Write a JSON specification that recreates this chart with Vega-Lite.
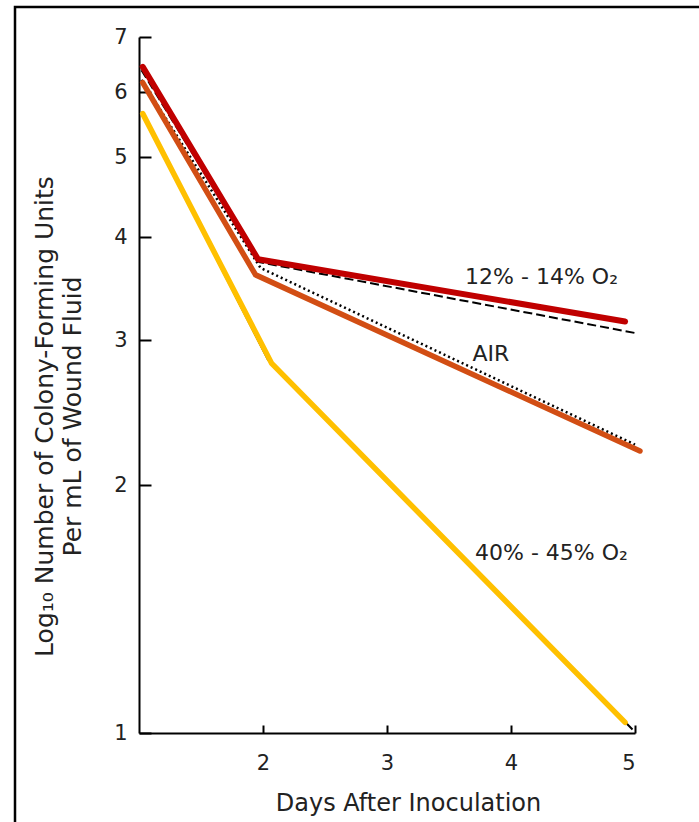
{
  "$schema": "https://vega.github.io/schema/vega-lite/v6.json",
  "width": 688,
  "height": 819,
  "autosize": {"type": "none"},
  "padding": {"left": 15, "top": 7, "right": -4, "bottom": -4},
  "background": "white",
  "config": {
    "view": {"stroke": "black", "strokeWidth": 2.5},
    "font": "DejaVu Sans",
    "axis": {
      "grid": false,
      "domainColor": "black",
      "domainWidth": 2,
      "tickColor": "black",
      "tickWidth": 2,
      "labelFont": "DejaVu Sans",
      "labelFontSize": 21,
      "labelColor": "#222",
      "titleFont": "DejaVu Sans",
      "titleFontWeight": "normal",
      "titleColor": "#222"
    }
  },
  "datasets": {
    "curves": [
      {"series": "12-14 black", "day": 1.02, "cfu": 6.38},
      {"series": "12-14 black", "day": 1.97, "cfu": 3.73},
      {"series": "12-14 black", "day": 5.0, "cfu": 3.06},
      {"series": "AIR black", "day": 1.02, "cfu": 6.21},
      {"series": "AIR black", "day": 1.98, "cfu": 3.67},
      {"series": "AIR black", "day": 5.0, "cfu": 2.24},
      {"series": "40-45 black", "day": 1.02, "cfu": 5.68},
      {"series": "40-45 black", "day": 2.04, "cfu": 2.84},
      {"series": "40-45 black", "day": 4.98, "cfu": 1.01},
      {"series": "40-45", "day": 1.03, "cfu": 5.65},
      {"series": "40-45", "day": 2.07, "cfu": 2.81},
      {"series": "40-45", "day": 4.92, "cfu": 1.03},
      {"series": "AIR", "day": 1.03, "cfu": 6.16},
      {"series": "AIR", "day": 1.94, "cfu": 3.6},
      {"series": "AIR", "day": 5.04, "cfu": 2.2},
      {"series": "12-14", "day": 1.03, "cfu": 6.44},
      {"series": "12-14", "day": 1.96, "cfu": 3.76},
      {"series": "12-14", "day": 4.92, "cfu": 3.16}
    ],
    "notes": [
      {"day": 3.63, "cfu": 3.51, "label": "12%  - 14%  O₂"},
      {"day": 3.69, "cfu": 2.83, "label": "AIR"},
      {"day": 3.71, "cfu": 1.623, "label": "40%  - 45%  O₂"}
    ]
  },
  "encoding": {
    "x": {
      "field": "day",
      "type": "quantitative",
      "scale": {"domain": [1, 5], "range": [124, 620], "nice": false, "zero": false},
      "axis": {
        "values": [2, 3, 4, 5],
        "offset": -93,
        "tickSize": -8,
        "labelPadding": 27,
        "title": "Days After Inoculation",
        "titleFontSize": 24,
        "titleX": 393,
        "titleY": 77,
        "titleAlign": "center",
        "titleBaseline": "alphabetic"
      }
    },
    "y": {
      "field": "cfu",
      "type": "quantitative",
      "scale": {"type": "log", "domain": [1, 7], "range": [726, 30], "nice": false, "zero": false},
      "axis": {
        "values": [1, 2, 3, 4, 5, 6, 7],
        "offset": -124,
        "tickSize": -12,
        "labelPadding": 24,
        "title": ["Log₁₀ Number of Colony-Forming Units", "Per mL of Wound Fluid"],
        "titleFontSize": 25,
        "titleLineHeight": 28,
        "titleAngle": 270,
        "titleX": -95,
        "titleY": 409,
        "titleAlign": "center",
        "titleBaseline": "middle"
      }
    }
  },
  "layer": [
    {
      "data": {"name": "curves"},
      "transform": [{"filter": "datum.series === '12-14 black'"}],
      "mark": {"type": "line", "color": "black", "strokeWidth": 2, "strokeDash": [9, 4]}
    },
    {
      "data": {"name": "curves"},
      "transform": [{"filter": "datum.series === 'AIR black'"}],
      "mark": {"type": "line", "color": "black", "strokeWidth": 2.5, "strokeDash": [2, 3]}
    },
    {
      "data": {"name": "curves"},
      "transform": [{"filter": "datum.series === '40-45 black'"}],
      "mark": {"type": "line", "color": "black", "strokeWidth": 2}
    },
    {
      "data": {"name": "curves"},
      "transform": [{"filter": "datum.series === '40-45'"}],
      "mark": {"type": "line", "color": "#FFC000", "strokeWidth": 5.5, "strokeCap": "round"}
    },
    {
      "data": {"name": "curves"},
      "transform": [{"filter": "datum.series === 'AIR'"}],
      "mark": {"type": "line", "color": "#D24E14", "strokeWidth": 5.5, "strokeCap": "round"}
    },
    {
      "data": {"name": "curves"},
      "transform": [{"filter": "datum.series === '12-14'"}],
      "mark": {"type": "line", "color": "#C00000", "strokeWidth": 6, "strokeCap": "round"}
    },
    {
      "data": {"name": "notes"},
      "mark": {"type": "text", "align": "left", "baseline": "alphabetic", "fontSize": 22, "color": "#222", "font": "DejaVu Sans"},
      "encoding": {"text": {"field": "label"}}
    }
  ]
}
